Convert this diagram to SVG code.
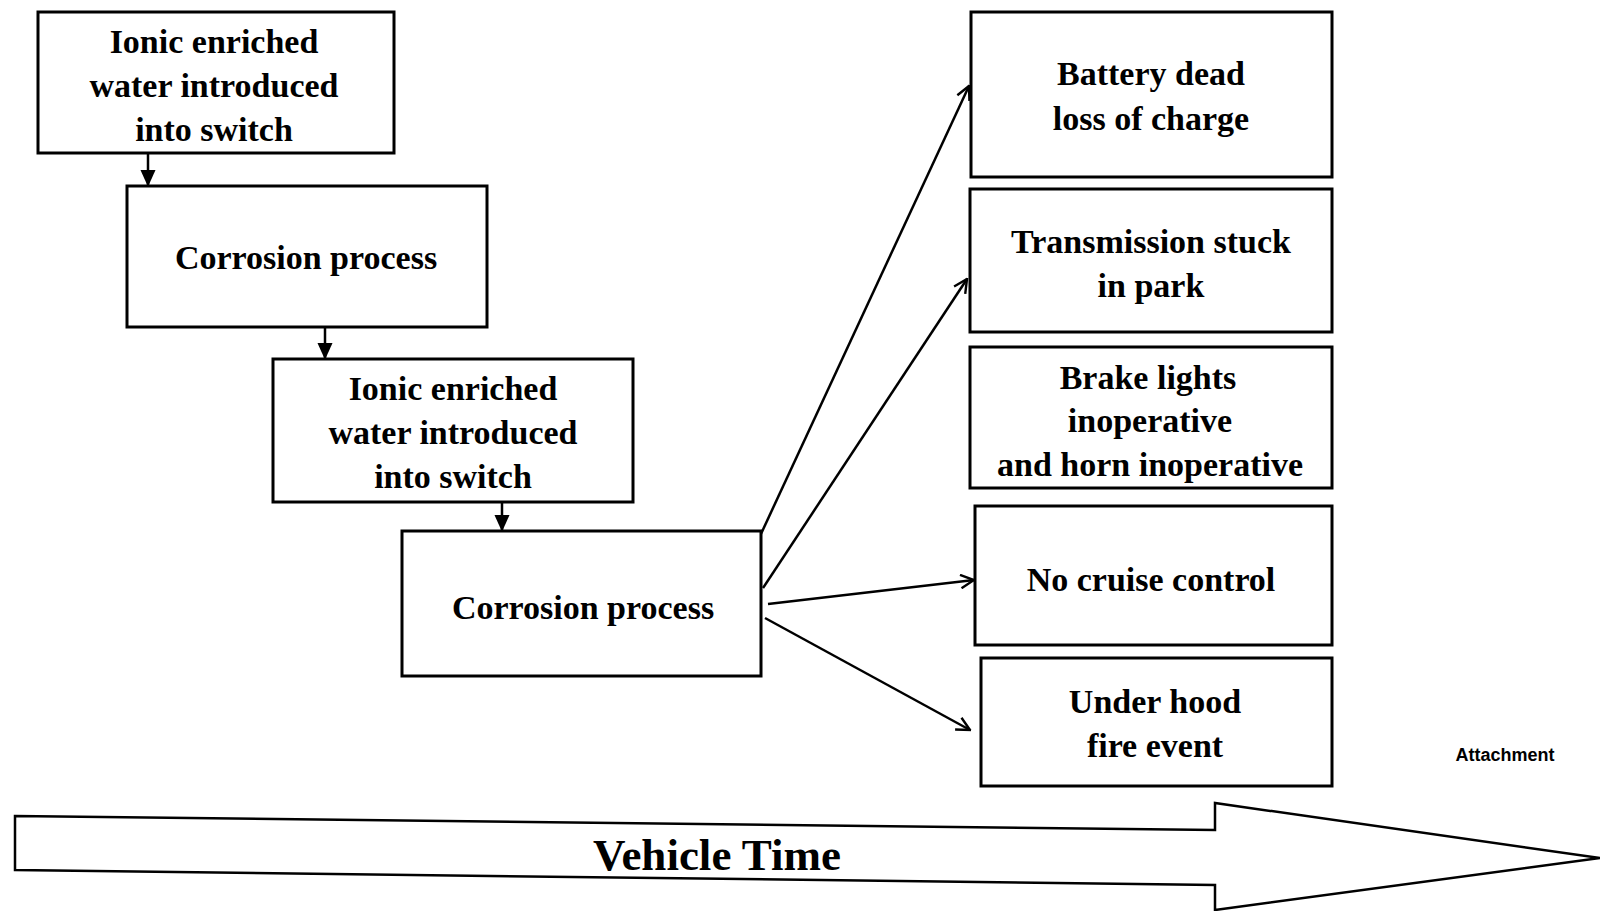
<svg xmlns="http://www.w3.org/2000/svg" width="1600" height="911" viewBox="0 0 1600 911">
<style>
.box{fill:#fff;stroke:#000;stroke-width:3}
.t{font-family:"Liberation Serif","Times New Roman",serif;font-weight:bold;font-size:34px;text-anchor:middle;dominant-baseline:central;fill:#000}
.c{stroke:#000;stroke-width:2.5;fill:none}
</style>
<defs>
<marker id="fill" viewBox="0 0 10 10" refX="9" refY="5" markerWidth="17" markerHeight="17" orient="auto" markerUnits="userSpaceOnUse">
<path d="M0,0.5 L10,5 L0,9.5 z" fill="#000"/>
</marker>
<marker id="open" viewBox="0 0 12 12" refX="11" refY="6" markerWidth="16" markerHeight="16" orient="auto" markerUnits="userSpaceOnUse">
<path d="M1,1 L11,6 L1,11" fill="none" stroke="#000" stroke-width="1.8"/>
</marker>
</defs>
<rect width="1600" height="911" fill="#fff"/>
<g id="connectors">
<line class="c" x1="148" y1="153" x2="148" y2="185" marker-end="url(#fill)"/>
<line class="c" x1="325" y1="327" x2="325" y2="358" marker-end="url(#fill)"/>
<line class="c" x1="502" y1="502" x2="502" y2="530" marker-end="url(#fill)"/>
<line class="c" x1="760" y1="536" x2="969" y2="86" marker-end="url(#open)"/>
<line class="c" x1="763" y1="588" x2="967" y2="279" marker-end="url(#open)"/>
<line class="c" x1="768" y1="604" x2="974" y2="580" marker-end="url(#open)"/>
<line class="c" x1="765" y1="618" x2="970" y2="730" marker-end="url(#open)"/>
</g>
<g id="n1"><rect class="box" x="38" y="12" width="356" height="141"/>
<text class="t" x="214" y="41">Ionic enriched</text><text class="t" x="214" y="85">water introduced</text><text class="t" x="214" y="129">into switch</text></g>
<g id="n2"><rect class="box" x="127" y="186" width="360" height="141"/>
<text class="t" x="306" y="257">Corrosion process</text></g>
<g id="n3"><rect class="box" x="273" y="359" width="360" height="143"/>
<text class="t" x="453" y="388">Ionic enriched</text><text class="t" x="453" y="432">water introduced</text><text class="t" x="453" y="476">into switch</text></g>
<g id="n4"><rect class="box" x="402" y="531" width="359" height="145"/>
<text class="t" x="583" y="607">Corrosion process</text></g>
<g id="r1"><rect class="box" x="971" y="12" width="361" height="165"/>
<text class="t" x="1151" y="73">Battery dead</text><text class="t" x="1151" y="118">loss of charge</text></g>
<g id="r2"><rect class="box" x="970" y="189" width="362" height="143"/>
<text class="t" x="1151" y="241">Transmission stuck</text><text class="t" x="1151" y="285">in park</text></g>
<g id="r3"><rect class="box" x="970" y="347" width="362" height="141"/>
<text class="t" x="1148" y="377">Brake lights</text><text class="t" x="1150" y="420">inoperative</text><text class="t" x="1150" y="464">and horn inoperative</text></g>
<g id="r4"><rect class="box" x="975" y="506" width="357" height="139"/>
<text class="t" x="1151" y="579">No cruise control</text></g>
<g id="r5"><rect class="box" x="981" y="658" width="351" height="128"/>
<text class="t" x="1155" y="701">Under hood</text><text class="t" x="1155" y="745">fire event</text></g>
<g id="timeline">
<polygon points="15,816 1215,830 1215,803 1600,858 1215,910 1215,885 15,870" fill="#fff" stroke="#000" stroke-width="2.5"/>
<text x="717" y="855" font-family="Liberation Serif,serif" font-weight="bold" font-size="45" text-anchor="middle" dominant-baseline="central">Vehicle Time</text>
</g>
<text x="1505" y="755" font-family="Liberation Sans,Arial,sans-serif" font-weight="bold" font-size="18" text-anchor="middle" dominant-baseline="central">Attachment</text>
</svg>
